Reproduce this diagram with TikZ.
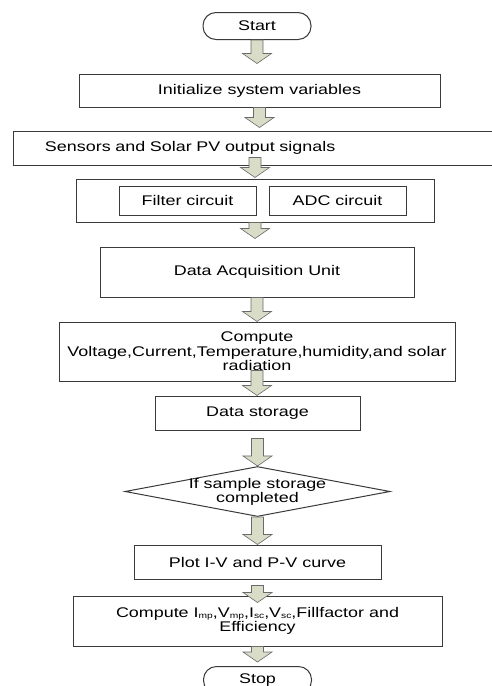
\documentclass[tikz,border=0pt]{standalone}
\usepackage{fontspec}
\setmainfont{Liberation Sans}[FakeStretch=1.28]
\usetikzlibrary{shapes.geometric, calc}
\definecolor{fcline}{HTML}{3A3A3A}
\definecolor{fcarrow}{HTML}{D9DCC7}
\definecolor{fcarrowline}{HTML}{6A6A6A}

\newcommand{\lowsub}[1]{\raisebox{-1.5pt}{\fontsize{8}{8}\selectfont #1}}
% block arrow: from, to, shift of shaft top, shift of tip
\newcommand{\fatarrow}[4]{%
  \draw[fatarr] let \p1=($(#1)+(0,#3)$), \p2=($(#2)+(0,#4)$) in
    (\x1-6pt,\y1) -- (\x1+6pt,\y1) -- (\x1+6pt,\y2+10pt) -- (\x1+14.5pt,\y2+10pt)
    -- (\x1,\y2) -- (\x1-14.5pt,\y2+10pt) -- (\x1-6pt,\y2+10pt) -- cycle;}

\begin{document}
\begin{tikzpicture}[x=1pt, y=-1pt, every node/.style={font=\fontsize{14}{14.5}\selectfont},
  procbox/.style={rectangle, draw=fcline, line width=1pt, fill=white, inner sep=2pt, align=center},
  termbox/.style={rectangle, rounded corners=13pt, draw=fcline, line width=1pt, fill=white, minimum width=108, minimum height=27, inner sep=2pt},
  decbox/.style={diamond, draw=fcline, line width=1pt, fill=white, aspect=5.3, minimum width=259, minimum height=49, inner xsep=-8pt, inner ysep=0pt, align=center, font=\fontsize{14}{11}\selectfont},
  fatarr/.style={draw=fcarrowline, fill=fcarrow, line width=0.6pt, line join=miter},
]
\useasboundingbox (0,0) rectangle (491,686);
\node[termbox] (start) at (257,26) {Start};
\node[procbox, minimum width=361, minimum height=33] (init) at (259.5,90.5) {Initialize system variables};
\node[procbox, minimum width=500, minimum height=34, text width=436, inner xsep=32pt, align=left] (sensor) at (263,148) {Sensors and Solar PV output signals};
\node[procbox, minimum width=358, minimum height=43] (condbox) at (255,200.5) {};
\node[procbox, minimum width=137, minimum height=29] (filter) at (187.5,200.5) {Filter circuit};
\node[procbox, minimum width=137, minimum height=29] (adc) at (337.5,200.5) {ADC circuit};
\node[procbox, minimum width=314, minimum height=50] (daq) at (257,272) {Data Acquisition Unit};
\node[procbox, minimum width=396, minimum height=59] (param) at (257,351.5) {Compute\\Voltage,Current,Temperature,humidity,and solar\\radiation};
\node[procbox, minimum width=205, minimum height=34] (store) at (257.5,413) {Data storage};
\node[decbox] (check) at (257.5,491.5) {If sample storage\\completed};
\node[procbox, minimum width=247, minimum height=34] (plot) at (257.5,562) {Plot I-V and P-V curve};
\node[procbox, minimum width=369, minimum height=50] (perf) at (257.5,621) {Compute I\lowsub{mp},V\lowsub{mp},I\lowsub{sc},V\lowsub{sc},Fillfactor and\\Efficiency};
\node[termbox] (stop) at (257.5,680) {Stop};
\coordinate (sensorout) at (sensor.south -| condbox.north);
% arrows
\fatarrow{start.south}{init.north}{0}{-10}
\fatarrow{init.south}{sensor.north}{0}{-3}
\fatarrow{sensorout}{condbox.north}{-8}{-1}
\fatarrow{condbox.south}{daq.north}{0}{-8}
\fatarrow{daq.south}{param.north}{0}{0}
\fatarrow{param.south}{store.north}{-11}{0}
\fatarrow{store.south}{check.north}{8}{0}
\fatarrow{check.south}{plot.north}{0}{0}
\fatarrow{plot.south}{perf.north}{6}{7}
\fatarrow{perf.south}{stop.north}{0}{-4}
\end{tikzpicture}
\end{document}
